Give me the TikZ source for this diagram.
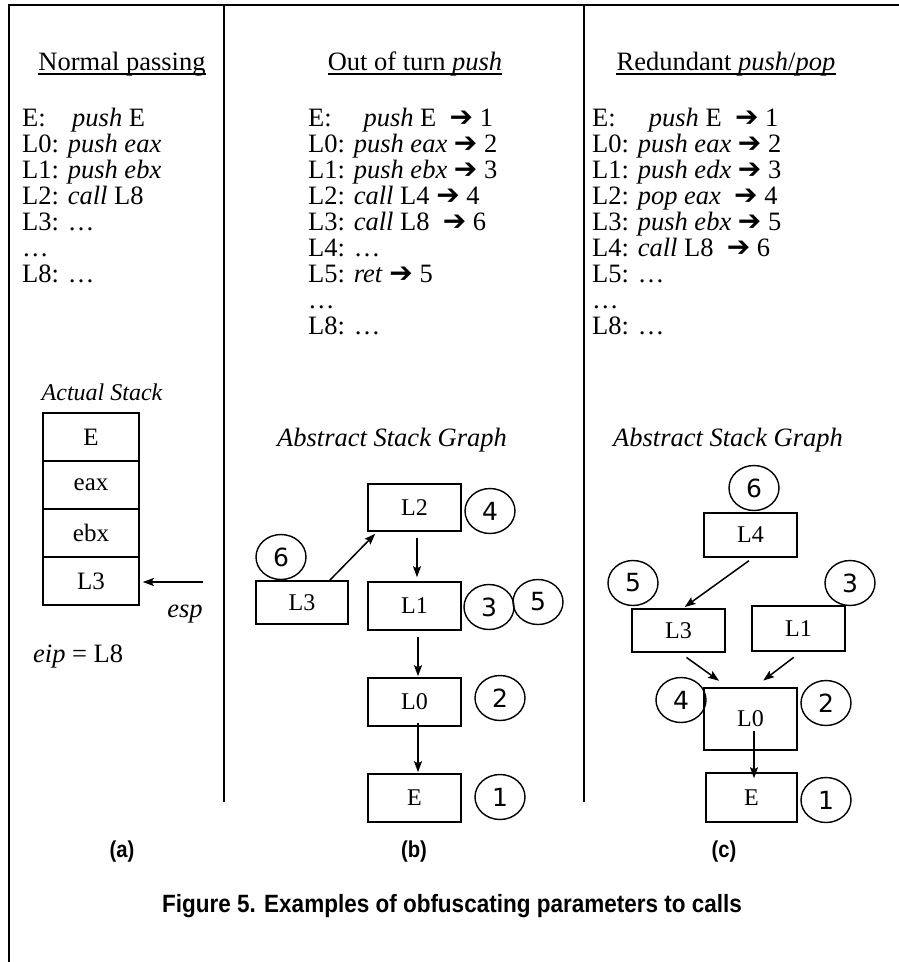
\documentclass[tikz,border=0pt]{standalone}
\usepackage{fontspec}
\setmainfont{Liberation Serif}
\newfontfamily\capfont{Liberation Sans}
\newfontfamily\numfont{DejaVu Sans}
\usetikzlibrary{arrows.meta,shapes.geometric}
\newcommand\rarr{{\numfont\fontsize{28}{28}\selectfont\char"2794}}
\begin{document}
\begin{tikzpicture}[x=1pt,y=-1pt,
  txt/.style={anchor=base west,inner sep=0pt,font=\fontsize{26.5}{30}\selectfont},
  ttl/.style={anchor=base,inner sep=0pt,font=\fontsize{26.5}{30}\selectfont},
  lbl/.style={inner sep=0pt,font=\fontsize{26.5}{30}\selectfont\itshape},
  cell/.style={draw,line width=1.6pt,minimum width=96pt,minimum height=48pt,inner sep=0pt,font=\fontsize{25}{28}\selectfont},
  gbox/.style={draw,line width=1.6pt,inner sep=0pt,font=\fontsize{24}{26}\selectfont},
  num/.style={draw,ellipse,line width=1.4pt,minimum width=50pt,minimum height=45pt,inner sep=0pt,font=\numfont\fontsize{25}{26}\selectfont},
  arr/.style={-{Stealth[length=11pt,width=8pt,inset=2pt]},line width=1.5pt},
  tag/.style={inner sep=0pt,font=\capfont\bfseries\fontsize{23}{26}\selectfont},
  uline/.style={line width=1.3pt}]
\useasboundingbox (0,0) rectangle (899,962);
\fill[white] (0,0) rectangle (899,962);

% outer frame and column separators
\draw[line width=2pt] (9,962) -- (9,5) -- (899,5);
\draw[line width=1.6pt] (224,5) -- (224,802);
\draw[line width=1.6pt] (584,5) -- (584,802);

% ---------- column (a): normal passing ----------
\node[ttl] (ta) at (122,70) {Normal passing};
\draw[uline] ([yshift=-4pt]ta.base west) -- ([yshift=-4pt]ta.base east);
\node[txt] (a1) at (22,126) {E:\hspace{1.0em}\textit{push} E};
\node[txt] (a2) at (22,152) {L0: \textit{push eax}};
\node[txt] (a3) at (22,178) {L1: \textit{push ebx}};
\node[txt] (a4) at (22,204) {L2: \textit{call} L8};
\node[txt] (a5) at (22,230) {L3: …};
\node[txt] (a6) at (22,256) {…};
\node[txt] (a7) at (22,282) {L8: …};

\node[lbl,font=\fontsize{24}{28}\selectfont\itshape] (stk) at (102,392) {Actual Stack};
\node[cell] (sE)   at (91,437) {E};
\node[cell] (seax) at (91,485) {eax};
\node[cell] (sebx) at (91,533) {ebx};
\node[cell] (sL3)  at (91,581) {L3};
\coordinate (espsrc) at (203,582);
\draw[arr] (espsrc) -- ([xshift=3pt,yshift=-1pt]sL3.east);
\node[lbl] (esp) at (185,614) {esp};
\node[txt] (eip) at (33,662) {\textit{eip} = L8};

% ---------- column (b): out of turn push ----------
\node[ttl] (tb) at (415,70) {Out of turn \textit{push}};
\draw[uline] ([yshift=-4pt]tb.base west) -- ([yshift=-4pt]tb.base east);
\node[txt] (b1) at (308,126) {E:\hspace{1.2em}\textit{push} E\ \ \rarr\ 1};
\node[txt] (b2) at (308,152) {L0: \textit{push eax} \rarr\ 2};
\node[txt] (b3) at (308,178) {L1: \textit{push ebx} \rarr\ 3};
\node[txt] (b4) at (308,204) {L2: \textit{call} L4 \rarr\ 4};
\node[txt] (b5) at (308,230) {L3: \textit{call} L8\ \ \rarr\ 6};
\node[txt] (b6) at (308,256) {L4: …};
\node[txt] (b7) at (308,282) {L5: \textit{ret} \rarr\ 5};
\node[txt] (b8) at (308,308) {…};
\node[txt] (b9) at (308,334) {L8: …};

\node[lbl] (gb) at (392,440) {Abstract Stack Graph};
\node[gbox,minimum width=93pt,minimum height=47pt] (bL2) at (414.5,507.5) {L2};
\node[gbox,minimum width=92pt,minimum height=43pt] (bL3) at (302,602.5) {L3};
\node[gbox,minimum width=93pt,minimum height=48pt] (bL1) at (414.5,606) {L1};
\node[gbox,minimum width=93pt,minimum height=48pt] (bL0) at (414.5,702) {L0};
\node[gbox,minimum width=93pt,minimum height=48pt] (bE)  at (414.5,798) {E};
\node[num] (b4n) at (490,511) {4};
\node[num] (b6n) at (281,557) {6};
\node[num] (b3n) at (489,607) {3};
\node[num] (b5n) at (538,602) {5};
\node[num] (b2n) at (500,698) {2};
\node[num] (b1n) at (500,797) {1};
\draw[arr] ([xshift=-19pt]bL3.north east) -- ([xshift=8pt,yshift=-2pt]bL2.south west);
\draw[arr,shorten <=6pt,shorten >=4pt] ([xshift=2.5pt]bL2.south) -- ([xshift=2.5pt]bL1.north);
\draw[arr,shorten <=6pt,shorten >=1pt] ([xshift=3.5pt]bL1.south) -- ([xshift=3.5pt]bL0.north);
\draw[arr,shorten >=1pt] ([xshift=3.5pt,yshift=4pt]bL0.south) -- ([xshift=3.5pt]bE.north);

% ---------- column (c): redundant push/pop ----------
\node[ttl] (tc) at (726,70) {Redundant \textit{push}/\textit{pop}};
\draw[uline] ([yshift=-4pt]tc.base west) -- ([yshift=-4pt]tc.base east);
\node[txt] (c1) at (592,126) {E:\hspace{1.25em}\textit{push} E\ \ \rarr\ 1};
\node[txt] (c2) at (592,152) {L0: \textit{push eax} \rarr\ 2};
\node[txt] (c3) at (592,178) {L1: \textit{push edx} \rarr\ 3};
\node[txt] (c4) at (592,204) {L2: \textit{pop eax}\ \ \rarr\ 4};
\node[txt] (c5) at (592,230) {L3: \textit{push ebx} \rarr\ 5};
\node[txt] (c6) at (592,256) {L4: \textit{call} L8\ \ \rarr\ 6};
\node[txt] (c7) at (592,282) {L5: …};
\node[txt] (c8) at (592,308) {…};
\node[txt] (c9) at (592,334) {L8: …};

\node[lbl] (gc) at (728,440) {Abstract Stack Graph};
\node[gbox,minimum width=93pt,minimum height=44pt] (cL4) at (750.5,535) {L4};
\node[gbox,minimum width=93pt,minimum height=43pt] (cL3) at (678.5,630.5) {L3};
\node[gbox,minimum width=93pt,minimum height=45pt] (cL1) at (798.5,628.5) {L1};
\node[gbox,minimum width=93pt,minimum height=62pt] (cL0) at (750.5,719) {L0};
\node[gbox,minimum width=91pt,minimum height=49pt] (cE)  at (751.5,797.5) {E};
\node[num] (c6n) at (754,488) {6};
\node[num] (c5n) at (633,583) {5};
\node[num] (c3n) at (850,583) {3};
\node[num] (c4n) at (681,700) {4};
\node[num] (c2n) at (826,703) {2};
\node[num] (c1n) at (826,800) {1};
\draw[arr,shorten <=5pt,shorten >=2pt] ([xshift=2.5pt]cL4.south) -- ([xshift=4.5pt]cL3.north);
\draw[arr,shorten <=8pt,shorten >=11pt] ([xshift=1.5pt]cL3.south) -- ([xshift=-22.5pt]cL0.north);
\draw[arr,shorten <=9pt,shorten >=11pt] ([xshift=2.5pt]cL1.south) -- ([xshift=4pt]cL0.north);
\draw[arr,shorten >=-6pt] ([xshift=3.5pt,yshift=20pt]cL0.south) -- ([xshift=2.5pt]cE.north);

% ---------- panel tags and caption ----------
\node[tag] (pa) at (122,852) {\scalebox{0.88}[1]{(a)}};
\node[tag] (pb) at (414,852) {\scalebox{0.88}[1]{(b)}};
\node[tag] (pc) at (724,852) {\scalebox{0.88}[1]{(c)}};
\node[inner sep=0pt,font=\capfont\bfseries\fontsize{25}{28}\selectfont] (cap) at (452,906)
  {\scalebox{0.9}[1]{Figure 5. Examples of obfuscating parameters to calls}};
\end{tikzpicture}
\end{document}
